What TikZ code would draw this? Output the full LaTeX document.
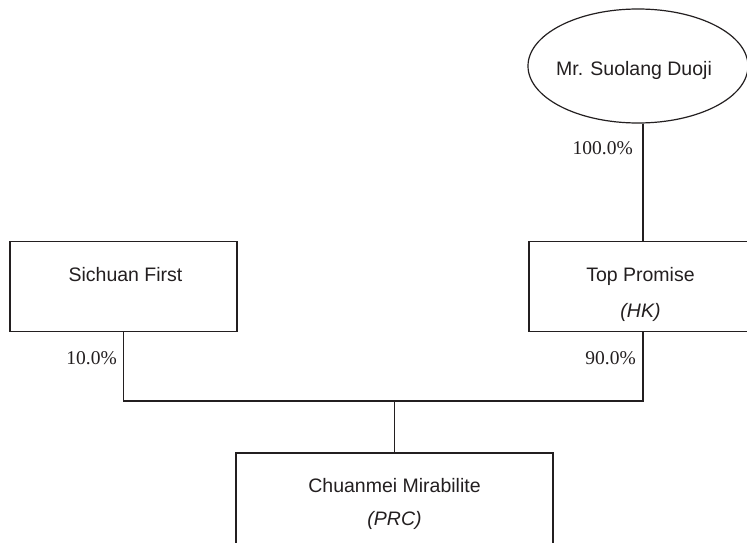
\documentclass[tikz,border=0pt]{standalone}
\usepackage{fontspec}
\setmainfont{Liberation Serif}
\newfontfamily\boxfont{Liberation Sans}
\usetikzlibrary{shapes.geometric}
\definecolor{ink}{RGB}{35,31,32}
\tikzset{
  entbox/.style={draw=ink, line width=1.2pt, rectangle, inner sep=0pt},
  owner/.style={draw=ink, line width=1.2pt, ellipse, inner sep=0pt, minimum width=220pt, minimum height=114pt},
  boxtext/.style={font=\boxfont\fontsize{19.5}{22}\selectfont, text=ink, anchor=base, inner sep=0pt},
  pct/.style={font=\fontsize{19.5}{22}\selectfont, text=ink, anchor=base east, inner sep=0pt},
  link/.style={draw=ink, line width=1.2pt}
}
\begin{document}
\begin{tikzpicture}[x=1pt,y=1pt]
\useasboundingbox (0,0) rectangle (747,542);
\fill[white] (0,0) rectangle (747,542);
% entities
\node[owner] (sd) at (638,476) {};
\node[boxtext] (sdt) at (634,466) {Mr. Suolang Duoji};
\node[entbox, minimum width=227pt, minimum height=90pt] (sf) at (123.5,255.5) {};
\node[boxtext] (sft) at (125.5,260.5) {Sichuan First};
\node[entbox, minimum width=228pt, minimum height=90pt] (tp) at (643,255.5) {};
\node[boxtext] (tpt) at (640.5,260.5) {Top Promise};
\node[boxtext] (tpc) at (640.5,225) {\itshape (HK)};
\node[entbox, minimum width=317pt, minimum height=100pt] (cm) at (394.5,39) {};
\node[boxtext] (cmt) at (394.5,49.5) {Chuanmei Mirabilite};
\node[boxtext] (cmc) at (394.5,17) {\itshape (PRC)};
% connectors
\coordinate (jn) at (394.5,141);
\draw[link] (tp.north) -- (tp.north |- sd.south);
\draw[link] (sf.south) |- (jn) -| (tp.south);
\draw[link] (jn) -- (cm.north);
% percentages
\node[pct] (p100) at (633,387.5) {100.0\%};
\node[pct] (p10) at (117,177.5) {10.0\%};
\node[pct] (p90) at (636,177.5) {90.0\%};
\end{tikzpicture}
\end{document}
